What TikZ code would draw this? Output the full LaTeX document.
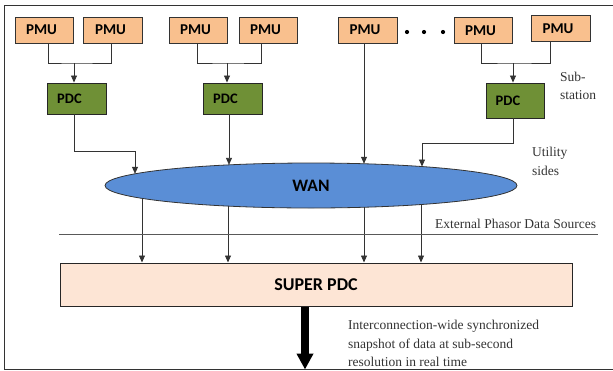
\documentclass[tikz,border=0pt]{standalone}
\usepackage{fontspec}
\setmainfont{Liberation Serif}
\newfontfamily\calib{Carlito}
\usetikzlibrary{arrows.meta,shapes.geometric,calc}
\definecolor{pmuc}{HTML}{F9C08E}
\definecolor{pdcc}{HTML}{6F9036}
\definecolor{wanc}{HTML}{5A8ED6}
\definecolor{supc}{HTML}{FDE5D5}
\definecolor{linec}{HTML}{333333}
\begin{document}
\begin{tikzpicture}[x=1pt,y=-1pt,
  pmubox/.style={draw=linec,line width=0.9pt,fill=pmuc,minimum width=58pt,minimum height=26pt,inner sep=0pt,font=\calib\bfseries\fontsize{15}{15}\selectfont},
  pdcbox/.style={draw=black!85,line width=0.9pt,fill=pdcc,minimum width=59pt,minimum height=31pt,inner sep=0pt,font=\calib\bfseries\fontsize{14.5}{15}\selectfont},
  conn/.style={draw=linec,line width=0.8pt},
  arr/.style={conn,-{Triangle[length=7pt,width=6pt]}},
  note/.style={font=\fontsize{13.5}{18.5}\selectfont,text=black!80,inner sep=0pt,align=left,anchor=west}]
\useasboundingbox (0,0) rectangle (613,370);
% frame
\draw[line width=1pt,black!80] (613,5) -- (4.5,5) -- (4.5,369) -- (613,369);
% PMUs
\node[pmubox] (pmu1) at (44,30) {\hspace*{-5pt}PMU};
\node[pmubox,minimum width=59pt] (pmu2) at (113,30) {\hspace*{-5pt}PMU};
\node[pmubox] (pmu3) at (198,30) {\hspace*{-5pt}PMU};
\node[pmubox] (pmu4) at (268,30) {\hspace*{-5pt}PMU};
\node[pmubox,minimum width=59pt] (pmu5) at (367.5,30) {\hspace*{-5pt}PMU};
\node[pmubox] (pmu6) at (483,30.5) {\hspace*{-5pt}PMU};
\node[pmubox,minimum width=59pt] (pmu7) at (560.5,28.5) {\hspace*{-5pt}PMU};
% dots
\fill[black] (407,32) circle (2.1pt) (424,32) circle (2.1pt) (443,32) circle (2.1pt);
% PDCs
\node[pdcbox] (pdc1) at (76.5,98.5) {\hspace*{-14pt}PDC};
\node[pdcbox] (pdc2) at (232.5,98.5) {\hspace*{-14pt}PDC};
\node[pdcbox,minimum width=58pt,minimum height=35pt] (pdc3) at (515,100.5) {\hspace*{-14pt}PDC};
% WAN
\node[ellipse,draw=black!80,line width=0.8pt,fill=wanc,minimum width=412pt,minimum height=45pt,inner sep=0pt,font=\calib\bfseries\fontsize{17.5}{18}\selectfont] (wan) at (311,185.5) {WAN};
% SUPER PDC
\node[draw=black!85,line width=1pt,fill=supc,minimum width=512pt,minimum height=43.5pt,inner sep=0pt,font=\calib\bfseries\fontsize{18}{18}\selectfont] (sup) at (316,284.75) {SUPER PDC};
% junctions
\coordinate (j1) at (74,63);
\coordinate (j2) at (227,63);
\coordinate (j3) at (513,63);
% ellipse top points
\foreach \n/\xx in {t1/135,t2/229,t3/364,t4/422}{
  \coordinate (\n) at ({\xx},{185.5-22.5*sqrt(1-((\xx-311)/206)^2)});}
\foreach \n/\xx in {b1/142,b2/228,b3/364,b4/421}{
  \coordinate (\n) at ({\xx},{185.5+22.5*sqrt(1-((\xx-311)/206)^2)});}
% PMU -> PDC
\draw[conn] ($(pmu1.south)+(4,0)$) |- (j1) -| ($(pmu2.south)+(-2,0)$);
\draw[arr] (j1) -- (j1 |- pdc1.north);
\draw[conn] ($(pmu3.south)+(-1,0)$) |- (j2) -| ($(pmu4.south)+(-7,0)$);
\draw[arr] (j2) -- (j2 |- pdc2.north);
\draw[conn] ($(pmu6.south)+(-2,0)$) |- (j3) -| ($(pmu7.south)+(-10.5,0)$);
\draw[arr] (j3) -- (j3 |- pdc3.north);
% PDC -> WAN
\draw[arr] ($(pdc1.south)+(-2.5,0)$) -- ++(0,37) -| (t1);
\draw[arr] (t2 |- pdc2.south) -- (t2);
\draw[arr] (t3 |- pmu5.south) -- (t3);
\draw[arr] ($(pdc3.south)+(-2,0)$) -- ++(0,25) -| (t4);
% WAN -> SUPER PDC
\foreach \n in {b1,b2,b3,b4}{
  \draw[arr] (\n) -- (\n |- sup.north);}
% separator line
\draw[line width=0.8pt,black!65] (59,234.5) -- (598,234.5);
% thick output arrow
\coordinate (outend) at (305,369.5);
\draw[line width=8pt,-{Triangle[length=16pt,width=16pt]}] (sup.south -| outend) -- (outend);
% notes
\node[note] (n1) at (560,86) {Sub-\\station};
\node[note] (n2) at (532,161.5) {Utility\\sides};
\node[note] (n3) at (435,224) {External Phasor Data Sources};
\node[note] (n4) at (348,343.5) {Interconnection-wide synchronized\\snapshot of data at sub-second\\resolution in real time};
\end{tikzpicture}
\end{document}
